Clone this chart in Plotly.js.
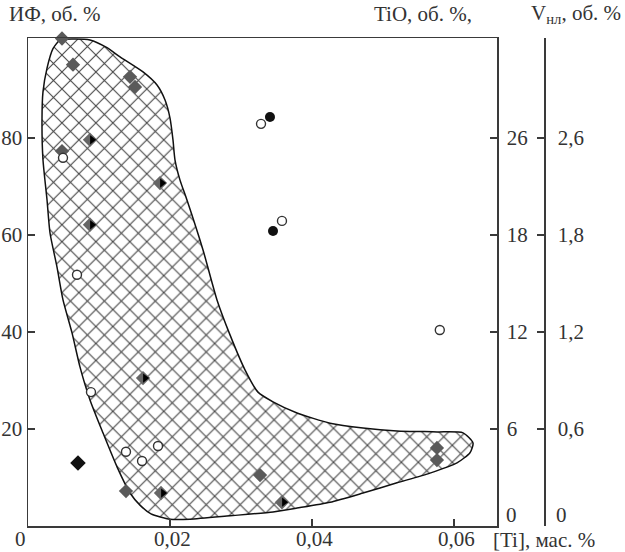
<!DOCTYPE html>
<html>
<head>
<meta charset="utf-8">
<script src="https://cdn.plot.ly/plotly-3.0.1.min.js"></script>
<style>html,body{margin:0;padding:0;background:#fff;}#chart{width:625px;height:552px;}</style>
</head>
<body>
<div id="chart"></div>
<script>
// Region outline ([Ti], mass %  vs  ИФ, vol %)
const regionTi = [0.00211,0.00268,0.00352,0.00451,0.00634,0.00873,0.01113,0.01296,0.0162,0.01817,0.0193,0.0200,0.02042,0.0207,0.02141,0.02239,0.02465,0.02662,0.02845,0.03056,0.03239,0.03451,0.03789,0.04254,0.04718,0.05197,0.05761,0.06127,0.06268,0.06225,0.06042,0.05662,0.05197,0.04718,0.04254,0.03789,0.03451,0.02845,0.02282,0.0200,0.01732,0.01577,0.01437,0.01254,0.01056,0.00873,0.00732,0.0062,0.00493,0.00408,0.0031,0.00268,0.00211,0.00197,0.00211];
const regionIF = [89.5,94.4,98.4,100.2,100.4,100.2,98.6,96.7,93.6,90.9,87.8,84.1,79.6,75.5,71.3,67.2,56.9,46.6,39.4,32.2,27.6,25.6,23.3,21.2,20.2,19.6,19.4,19.2,17.1,15.1,13.0,10.9,8.9,6.8,4.9,3.7,2.9,2.1,1.4,1.4,2.5,4.3,6.8,12.2,19.2,26.0,32.8,39.8,46.6,53.4,60.4,67.2,75.5,83.7,89.5];

// Gray diamonds
const grayTi = [0.00479,0.00634,0.01437,0.01507,0.00479,0.0138,0.03268,0.0576,0.0576];
const grayY  = [100.5,95.1,92.6,90.5,77.3,7.2,10.5,16.1,13.6];
// Half-black diamonds
const halfTi = [0.00873,0.01859,0.00873,0.0162,0.01873,0.03577];
const halfY  = [79.6,70.7,62.1,30.5,6.8,4.9];
// Black diamond
const blackDTi = [0.00704];
const blackDY  = [13.0];
// Open circles
const openTi = [0.00493,0.0069,0.00887,0.0138,0.01831,0.01606,0.03282,0.03577,0.0580];
const openY  = [75.9,51.8,27.6,15.3,16.5,13.4,82.9,62.9,40.4];
// Filled circles
const fillTi = [0.03408,0.03451];
const fillY  = [84.3,60.8];

// Axes ticks
const xTickVals = [0, 0.02, 0.04, 0.06];
const xTickText = ['0', '0,02', '0,04', '0,06'];
const yTickVals = [20, 40, 60, 80];
const yTickText = ['20', '40', '60', '80'];
const tioTickVals = [0, 6, 12, 18, 24];
const tioTickText = ['0', '6', '12', '18', '26'];
const vTickVals = [0, 0.6, 1.2, 1.8, 2.4];
const vTickText = ['0', '0,6', '1,2', '1,8', '2,6'];

const FONT = 'Liberation Serif, Times New Roman, serif';
const FS = 21;
const TXT = '#333';
const LINE = '#3a3a3a';
const Ymax = 100.6;
const PW = 516, PH = 488;   // paper size in px (plot spans 28..544, 38..526)

const halfShift = 0.0003;

const traces = [
  {x: regionTi, y: regionIF, type:'scatter', mode:'lines', fill:'toself',
   line:{color:'#111', width:1.5, shape:'spline', smoothing:0.6},
   fillcolor:'rgba(255,255,255,0)',
   fillpattern:{shape:'x', size:12, solidity:0.17, fgcolor:'#444', bgcolor:'#fff', fillmode:'replace'},
   hoverinfo:'skip', showlegend:false},
  {x: grayTi, y: grayY, type:'scatter', mode:'markers', cliponaxis:false,
   marker:{symbol:'diamond', size:11, color:'#5a5a5a'}, showlegend:false},
  {x: halfTi, y: halfY, type:'scatter', mode:'markers', cliponaxis:false,
   marker:{symbol:'diamond', size:11, color:'#666'}, showlegend:false},
  {x: halfTi.map(v => v + halfShift), y: halfY, type:'scatter', mode:'markers', cliponaxis:false,
   marker:{symbol:'triangle-right', size:8, color:'#000'}, showlegend:false},
  {x: blackDTi, y: blackDY, type:'scatter', mode:'markers', cliponaxis:false,
   marker:{symbol:'diamond', size:12, color:'#111'}, showlegend:false},
  {x: openTi, y: openY, type:'scatter', mode:'markers', cliponaxis:false,
   marker:{symbol:'circle', size:9, color:'#fff', line:{color:'#333', width:1.4}}, showlegend:false},
  {x: fillTi, y: fillY, type:'scatter', mode:'markers', cliponaxis:false,
   marker:{symbol:'circle', size:10, color:'#111'}, showlegend:false},
  {x:[0], y:[0], yaxis:'y2', type:'scatter', mode:'markers', marker:{opacity:0}, hoverinfo:'skip', showlegend:false},
  {x:[0], y:[0], yaxis:'y3', type:'scatter', mode:'markers', marker:{opacity:0}, hoverinfo:'skip', showlegend:false}
];

const tickFont = {family:FONT, size:FS, color:TXT};
const ann = [];
// x tick labels
xTickVals.forEach((v, i) => {
  ann.push({text:xTickText[i], xref:'x', yref:'paper', x:v, y:(526-539)/PH,
    xanchor:'center', yanchor:'middle', showarrow:false, font:tickFont,
    xshift: v === 0 ? -8 : 2});
});
// zero labels of the right axes, slightly raised as in the reference
ann.push({text:tioTickText[0], xref:'paper', yref:'paper', x:(497-28)/PW, y:(526-515)/PH,
  xanchor:'left', yanchor:'middle', xshift:7, showarrow:false, font:tickFont});
ann.push({text:vTickText[0], xref:'paper', yref:'paper', x:1, y:(526-515)/PH,
  xanchor:'left', yanchor:'middle', xshift:10, showarrow:false, font:tickFont});
ann.push({text:'ИФ, об. %', xref:'paper', yref:'paper', x:(7-28)/PW, y:(526-14)/PH,
  xanchor:'left', yanchor:'middle', showarrow:false, font:tickFont});
ann.push({text:'TiO, об. %,', xref:'paper', yref:'paper', x:(372-28)/PW, y:(526-14)/PH,
  xanchor:'left', yanchor:'middle', showarrow:false, font:tickFont});
ann.push({text:'V<sub>нл</sub>, об. %', xref:'paper', yref:'paper', x:(623-28)/PW, y:(526-14)/PH,
  xanchor:'right', yanchor:'middle', showarrow:false, font:tickFont});
ann.push({text:'[Ti], мас. %', xref:'paper', yref:'paper', x:(491-28)/PW, y:(526-540)/PH,
  xanchor:'left', yanchor:'middle', showarrow:false, font:tickFont});

const layout = {
  width:625, height:552,
  margin:{l:28, r:81, t:38, b:26, pad:0},
  paper_bgcolor:'#fff', plot_bgcolor:'#fff',
  showlegend:false,
  font:{family:FONT, size:FS, color:TXT},
  xaxis:{domain:[0, 469/PW], range:[0, 469/7100], showgrid:false, zeroline:false,
    showline:true, linecolor:LINE, linewidth:1.5, mirror:true,
    ticks:'inside', ticklen:7, tickcolor:LINE, tickwidth:1.2,
    tickvals:xTickVals.slice(1), showticklabels:false},
  yaxis:{range:[0, Ymax], showgrid:false, zeroline:false,
    showline:true, linecolor:LINE, linewidth:1.5,
    ticks:'inside', ticklen:7, tickcolor:LINE, tickwidth:1.2,
    tickvals:yTickVals, ticktext:yTickText, tickfont:tickFont},
  yaxis2:{overlaying:'y', side:'right', anchor:'x', range:[0, Ymax*0.3], showgrid:false, zeroline:false,
    showline:true, linecolor:LINE, linewidth:1.5,
    ticks:'inside', ticklen:7, tickcolor:LINE, tickwidth:1.2, ticklabelstandoff:4,
    tickvals:tioTickVals.slice(1), ticktext:tioTickText.slice(1), tickfont:tickFont},
  yaxis3:{overlaying:'y', side:'right', anchor:'free', position:1, range:[0, Ymax*0.03], showgrid:false, zeroline:false,
    showline:true, linecolor:LINE, linewidth:1.5,
    ticks:'inside', ticklen:7, tickcolor:LINE, tickwidth:1.2, ticklabelstandoff:8,
    tickvals:vTickVals.slice(1), ticktext:vTickText.slice(1), tickfont:tickFont},
  annotations:ann
};

Plotly.newPlot('chart', traces, layout, {displayModeBar:false, staticPlot:true});
</script>
</body>
</html>
